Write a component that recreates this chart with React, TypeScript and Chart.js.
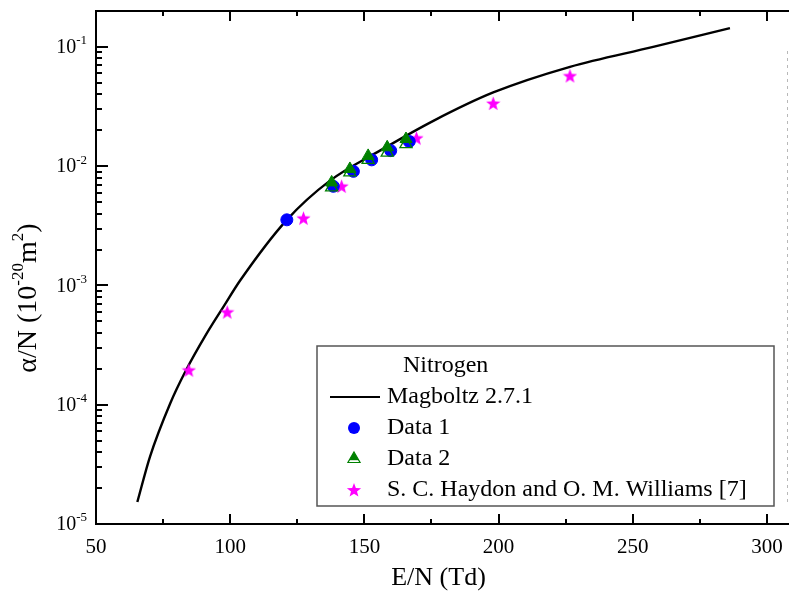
import { useEffect, useRef } from "react";
import { Chart, registerables } from "chart.js";

Chart.register(...registerables);

// ---- data ----
const magboltzX = [65.4, 70.1, 77.6, 83.2, 91.2, 97.4, 103.7, 121.1, 137.2, 155.8, 175.7, 198.0, 226.6, 257.6, 286.2];
const magboltzY = [1.53e-5, 3.66e-5, 1.02e-4, 1.88e-4, 3.94e-4, 6.58e-4, 1.1e-3, 3.55e-3, 7.57e-3, 1.35e-2, 2.4e-2, 4.15e-2, 6.81e-2, 0.1, 0.1436];

const data1X = [121.1, 138.4, 145.9, 152.7, 159.8, 166.7];
const data1Y = [3.55e-3, 6.78e-3, 9.05e-3, 1.13e-2, 1.35e-2, 1.61e-2];

const data2X = [137.8, 144.6, 151.4, 158.5, 165.5];
const data2Y = [7.31e-3, 9.48e-3, 1.22e-2, 1.44e-2, 1.69e-2];
const data2OpenY = [6.65e-3, 8.88e-3, 1.13e-2, 1.3e-2, 1.53e-2];

const haydonX = [84.6, 98.9, 127.3, 141.5, 169.4, 198.0, 226.6];
const haydonY = [1.95e-4, 5.98e-4, 3.66e-3, 6.78e-3, 1.72e-2, 3.36e-2, 5.71e-2];

const xMajorTicks = [50, 100, 150, 200, 250, 300];
const xMinorTicks = [75, 125, 175, 225, 275];
const yDecades = [1e-5, 1e-4, 1e-3, 1e-2, 1e-1];
const yDecadeExponents = ["-5", "-4", "-3", "-2", "-1"];
const yMinorMultipliers = [2, 3, 4, 5, 6, 7, 8, 9];

const legendTitle = "Nitrogen";
const labelMagboltz = "Magboltz 2.7.1";
const labelData1 = "Data 1";
const labelData2 = "Data 2";
const labelHaydon = "S. C. Haydon and O. M. Williams [7]";
const xTitle = "E/N (Td)";

const BLUE = "#0000ff";
const GREEN = "#008000";
const MAGENTA = "#ff00ff";
const SERIF = "'Liberation Serif', 'Times New Roman', serif";

function pts(xs: number[], ys: number[]) {
  return xs.map((x, i) => ({ x, y: ys[i] }));
}

function drawStarPath(ctx: CanvasRenderingContext2D, cx: number, cy: number, R: number) {
  const r = R * 0.42;
  ctx.beginPath();
  for (let i = 0; i < 10; i++) {
    const a = -Math.PI / 2 + (i * Math.PI) / 5;
    const rad = i % 2 === 0 ? R : r;
    ctx.lineTo(cx + rad * Math.cos(a), cy + rad * Math.sin(a));
  }
  ctx.closePath();
}

function makeStar(size: number, color: string) {
  const c = document.createElement("canvas");
  c.width = size;
  c.height = size;
  const ctx = c.getContext("2d")!;
  drawStarPath(ctx, size / 2, size / 2 + 0.6, size / 2);
  ctx.fillStyle = color;
  ctx.fill();
  return c;
}

function triPath(ctx: CanvasRenderingContext2D, x: number, y: number, r: number) {
  ctx.beginPath();
  for (let i = 0; i < 3; i++) {
    const a = -Math.PI / 2 + (i * 2 * Math.PI) / 3;
    ctx.lineTo(x + r * Math.cos(a), y + r * Math.sin(a));
  }
  ctx.closePath();
}

const framePlugin = {
  id: "frameAndAxes",
  afterDatasetsDraw(chart: any) {
    const { ctx, chartArea, scales } = chart;
    const xs = scales.x;
    const ys = scales.y;
    const { left, right, top, bottom } = chartArea;
    ctx.save();
    ctx.strokeStyle = "#000";
    ctx.lineWidth = 2;
    // frame (left, bottom, top)
    ctx.beginPath();
    ctx.moveTo(right + 2, top);
    ctx.lineTo(left, top);
    ctx.lineTo(left, bottom);
    ctx.lineTo(right + 2, bottom);
    ctx.stroke();
    // faint right edge
    ctx.save();
    ctx.strokeStyle = "#b8b8b8";
    ctx.lineWidth = 1;
    ctx.setLineDash([3, 4]);
    ctx.beginPath();
    ctx.moveTo(right - 1.5, top + 40);
    ctx.lineTo(right - 1.5, bottom - 20);
    ctx.stroke();
    ctx.restore();

    // x ticks (bottom & top, inward)
    ctx.lineWidth = 2;
    ctx.beginPath();
    xMajorTicks.forEach((v) => {
      const px = Math.round(xs.getPixelForValue(v));
      ctx.moveTo(px, bottom);
      ctx.lineTo(px, bottom - 10);
      ctx.moveTo(px, top);
      ctx.lineTo(px, top + 10);
    });
    xMinorTicks.forEach((v) => {
      const px = Math.round(xs.getPixelForValue(v));
      ctx.moveTo(px, bottom);
      ctx.lineTo(px, bottom - 5);
      ctx.moveTo(px, top);
      ctx.lineTo(px, top + 5);
    });
    // y ticks (left, inward)
    yDecades.forEach((v) => {
      const py = Math.round(ys.getPixelForValue(v));
      ctx.moveTo(left, py);
      ctx.lineTo(left + 12, py);
      yMinorMultipliers.forEach((m) => {
        const mv = v * m;
        if (mv < ys.max) {
          const mp = Math.round(ys.getPixelForValue(mv));
          ctx.moveTo(left, mp);
          ctx.lineTo(left + 6, mp);
        }
      });
    });
    ctx.stroke();

    // x tick labels
    ctx.fillStyle = "#000";
    ctx.font = `21px ${SERIF}`;
    ctx.textAlign = "center";
    ctx.textBaseline = "middle";
    xMajorTicks.forEach((v) => {
      ctx.fillText(String(v), xs.getPixelForValue(v), bottom + 23);
    });

    // y tick labels 10^n
    yDecades.forEach((v, i) => {
      const py = ys.getPixelForValue(v);
      const exp = yDecadeExponents[i];
      ctx.font = `13px ${SERIF}`;
      const ew = ctx.measureText(exp).width;
      ctx.font = `20px ${SERIF}`;
      const bw = ctx.measureText("10").width;
      const rightEdge = left - 9;
      ctx.textAlign = "left";
      ctx.textBaseline = "middle";
      ctx.fillText("10", rightEdge - ew - bw, py + 1);
      ctx.font = `13px ${SERIF}`;
      ctx.fillText(exp, rightEdge - ew, py - 6);
    });

    // x title
    ctx.font = `26px ${SERIF}`;
    ctx.textAlign = "center";
    ctx.textBaseline = "middle";
    ctx.fillText(xTitle, (left + right) / 2 - 4, bottom + 54);

    // y title (rotated) : α/N (10^-20 m^2)
    ctx.save();
    ctx.translate(28, 298);
    ctx.rotate(-Math.PI / 2);
    const big = `28px ${SERIF}`;
    const small = `17px ${SERIF}`;
    const parts: [string, boolean][] = [
      ["\u03b1/N (10", false],
      ["-20", true],
      ["m", false],
      ["2", true],
      [")", false],
    ];
    let total = 0;
    parts.forEach(([t, sup]) => {
      ctx.font = sup ? small : big;
      total += ctx.measureText(t).width;
    });
    let cx = -total / 2;
    ctx.textAlign = "left";
    ctx.textBaseline = "middle";
    parts.forEach(([t, sup]) => {
      ctx.font = sup ? small : big;
      ctx.fillText(t, cx, sup ? -9 : 1);
      cx += ctx.measureText(t).width;
    });
    ctx.restore();
    ctx.restore();
  },
  afterDraw(chart: any) {
    const { ctx } = chart;
    const bx = 317, by = 346, bw = 457, bh = 160;
    ctx.save();
    ctx.fillStyle = "#fff";
    ctx.fillRect(bx, by, bw, bh);
    ctx.strokeStyle = "#555";
    ctx.lineWidth = 1.5;
    ctx.strokeRect(bx, by, bw, bh);

    ctx.fillStyle = "#000";
    ctx.font = `24px ${SERIF}`;
    ctx.textAlign = "left";
    ctx.textBaseline = "middle";
    ctx.fillText(legendTitle, 403, 366);

    const textX = 387;
    const symX = 354;
    const rows = [397, 428, 459, 490];
    // line
    ctx.strokeStyle = "#000";
    ctx.lineWidth = 2.2;
    ctx.beginPath();
    ctx.moveTo(330, rows[0]);
    ctx.lineTo(380, rows[0]);
    ctx.stroke();
    ctx.fillText(labelMagboltz, textX, rows[0]);
    // circle
    ctx.fillStyle = BLUE;
    ctx.beginPath();
    ctx.arc(symX, rows[1], 6, 0, Math.PI * 2);
    ctx.fill();
    ctx.fillStyle = "#000";
    ctx.fillText(labelData1, textX, rows[1]);
    // triangle (filled + open)
    ctx.fillStyle = GREEN;
    triPath(ctx, symX, rows[2], 7);
    ctx.fill();
    ctx.fillStyle = "#fff";
    ctx.fillRect(symX - 5, rows[2] + 1.2, 10, 1.8);
    ctx.strokeStyle = GREEN;
    ctx.lineWidth = 1.2;
    triPath(ctx, symX, rows[2], 7);
    ctx.stroke();
    ctx.fillStyle = "#000";
    ctx.fillText(labelData2, textX, rows[2]);
    // star
    ctx.fillStyle = MAGENTA;
    drawStarPath(ctx, symX, rows[3] + 0.5, 7.5);
    ctx.fill();
    ctx.fillStyle = "#000";
    ctx.fillText(labelHaydon, textX, rows[3]);
    ctx.restore();
  },
};

export default function App() {
  const ref = useRef<HTMLCanvasElement | null>(null);
  useEffect(() => {
    if (!ref.current) return;
    const star = makeStar(15, MAGENTA);
    const chart = new Chart(ref.current, {
      type: "scatter",
      data: {
        datasets: [
          {
            label: labelData2,
            data: pts(data2X, data2Y),
            pointStyle: "triangle",
            pointRadius: 7,
            backgroundColor: GREEN,
            borderColor: GREEN,
            borderWidth: 1,
          },
          {
            label: labelData2 + " (open)",
            data: pts(data2X, data2OpenY),
            pointStyle: "triangle",
            pointRadius: 7,
            backgroundColor: "rgba(255,255,255,0)",
            borderColor: GREEN,
            borderWidth: 1.3,
          },
          {
            label: labelData1,
            data: pts(data1X, data1Y),
            pointStyle: "circle",
            pointRadius: 6,
            backgroundColor: BLUE,
            borderColor: BLUE,
            borderWidth: 1,
          },
          {
            label: labelHaydon,
            data: pts(haydonX, haydonY),
            pointStyle: star as any,
            pointRadius: 7.5,
            backgroundColor: MAGENTA,
            borderColor: MAGENTA,
          },
          {
            type: "line",
            label: labelMagboltz,
            data: pts(magboltzX, magboltzY),
            borderColor: "#000",
            borderWidth: 2.4,
            pointRadius: 0,
            fill: false,
            cubicInterpolationMode: "monotone",
            showLine: true,
          } as any,
        ],
      },
      options: {
        animation: false,
        responsive: false,
        devicePixelRatio: 1,
        layout: { autoPadding: false, padding: { left: 96, right: 0, top: 11, bottom: 75 } },
        plugins: {
          legend: { display: false },
          tooltip: { enabled: false },
        },
        scales: {
          x: { type: "linear", min: 50, max: 308.2, display: false },
          y: { type: "logarithmic", min: 1e-5, max: 0.2, display: false },
        },
      },
      plugins: [framePlugin],
    });
    return () => chart.destroy();
  }, []);
  return (
    <div style={{ position: "absolute", left: 0, top: 0, width: 789, height: 599, background: "#fff" }}>
      <canvas ref={ref} width={789} height={599} style={{ display: "block" }} />
    </div>
  );
}
